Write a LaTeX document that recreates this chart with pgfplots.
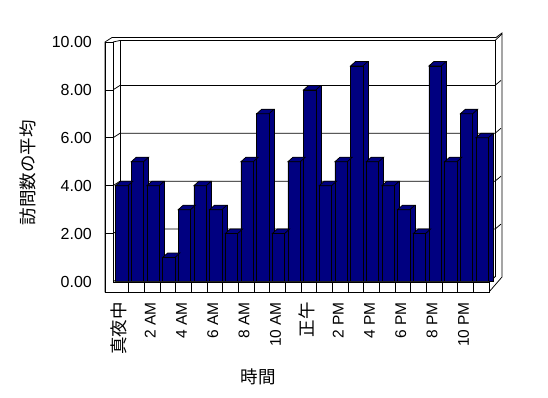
\documentclass[border=0pt]{standalone}
\usepackage{pgfplots}
\pgfplotsset{compat=1.18}
\usepackage{pgfplotstable}
\usepackage{fontspec}
\setmainfont{Liberation Sans}
\newfontfamily\jp{Noto Sans CJK JP}
\definecolor{barblue}{RGB}{0,0,128}

\pgfplotstableread{
h v
0 4
1 5
2 4
3 1
4 3
5 4
6 3
7 2
8 5
9 7
10 2
11 5
12 8
13 4
14 5
15 9
16 5
17 4
18 3
19 2
20 9
21 5
22 7
23 6
}\visits

\pgfdeclareplotmark{bartop}{%
  \pgfpathmoveto{\pgfqpoint{-5.25pt}{0pt}}%
  \pgfpathlineto{\pgfqpoint{7.05pt}{0pt}}%
  \pgfpathlineto{\pgfqpoint{12.05pt}{4.5pt}}%
  \pgfpathlineto{\pgfqpoint{-0.25pt}{4.5pt}}%
  \pgfpathclose
  \pgfusepathqfillstroke}

\begin{document}
\begin{tikzpicture}[x=1pt,y=1pt,line width=0.75pt]
\useasboundingbox (0,0) rectangle (548,398);
% background frame (image coordinates)
\begin{scope}[yshift=398pt, yscale=-1]
  \filldraw[fill=white, draw=black] (105,42) -- (112,37.5) -- (496,37.5) -- (502,33) -- (502,277) -- (489,292) -- (105,292) -- cycle;
  \draw (113,42) -- (120,40.5) -- (495,40.5);
  \draw (120,40.5) -- (120,277);
  \draw (495,40.5) -- (495,277);
  \draw (495,40.5) -- (502,34);
  \draw (113,282) -- (120,277) -- (495,277);
  \draw (489,282) -- (495,277);
  \foreach \yf in {233.6,185.7,137.8,89.9} {
    \draw (105,\yf) -- (113,\yf) -- (120,\yf-4.5) -- (495,\yf-4.5) -- (501,\yf-9.5);
  }
\end{scope}
\begin{axis}[
  at={(113pt,116.5pt)}, anchor=south west,
  scale only axis, width=376pt, height=239.5pt,
  xmin=-0.5, xmax=23.5, ymin=0, ymax=10,
  enlargelimits=false, clip=false,
  axis line style={draw=none}, tick style={draw=none},
  major tick length=0pt,
  ytick={0,2,4,6,8,10},
  yticklabels={0.00,2.00,4.00,6.00,8.00,10.00},
  yticklabel style={anchor=east, inner sep=0pt, xshift=-21pt, font=\fontsize{16}{19}\selectfont},
  xtick={-0.13,1.87,3.87,5.87,7.87,9.87,11.87,13.87,15.87,17.87,19.87,21.87},
  xticklabels={{\jp\fontsize{17.5}{20}\selectfont 真夜中},2 AM,4 AM,6 AM,8 AM,10 AM,{\jp\fontsize{17.5}{20}\selectfont 正午},2 PM,4 PM,6 PM,8 PM,10 PM},
  xticklabel style={yshift=-20.5pt, rotate=90, anchor=east, inner sep=0pt, font=\fontsize{15.5}{18}\selectfont},
]
  \addplot[ybar, bar width=12.3pt, bar shift=5.9pt, fill=barblue, draw=black, line width=0.75pt]
    table[x=h, y expr=\thisrow{v}+0.188] {\visits};
  \addplot[ybar, bar width=12.3pt, bar shift=0.9pt, fill=barblue, draw=black, line width=0.75pt]
    table[x=h, y=v] {\visits};
  \addplot[only marks, mark=bartop, mark options={solid, fill=barblue, draw=black, line width=0.75pt}]
    table[x=h, y=v] {\visits};
\end{axis}
% front frame
\begin{scope}[yshift=398pt, yscale=-1]
  \filldraw[fill=white, draw=black] (105,42) -- (113,42) -- (113,282) -- (489,282) -- (489,292) -- (105,292) -- cycle;
  \foreach \k in {1,...,23} {
    \draw (113+15.667*\k,282) -- (113+15.667*\k,292);
  }
  \foreach \yf in {233.6,185.7,137.8,89.9} {
    \draw (105,\yf) -- (113,\yf);
  }
\end{scope}
\node[rotate=90, font=\jp\fontsize{17.5}{20}\selectfont] at (28,225) {訪問数の平均};
\node[font=\jp\fontsize{17.5}{20}\selectfont] at (258,21) {時間};
\end{tikzpicture}
\end{document}
